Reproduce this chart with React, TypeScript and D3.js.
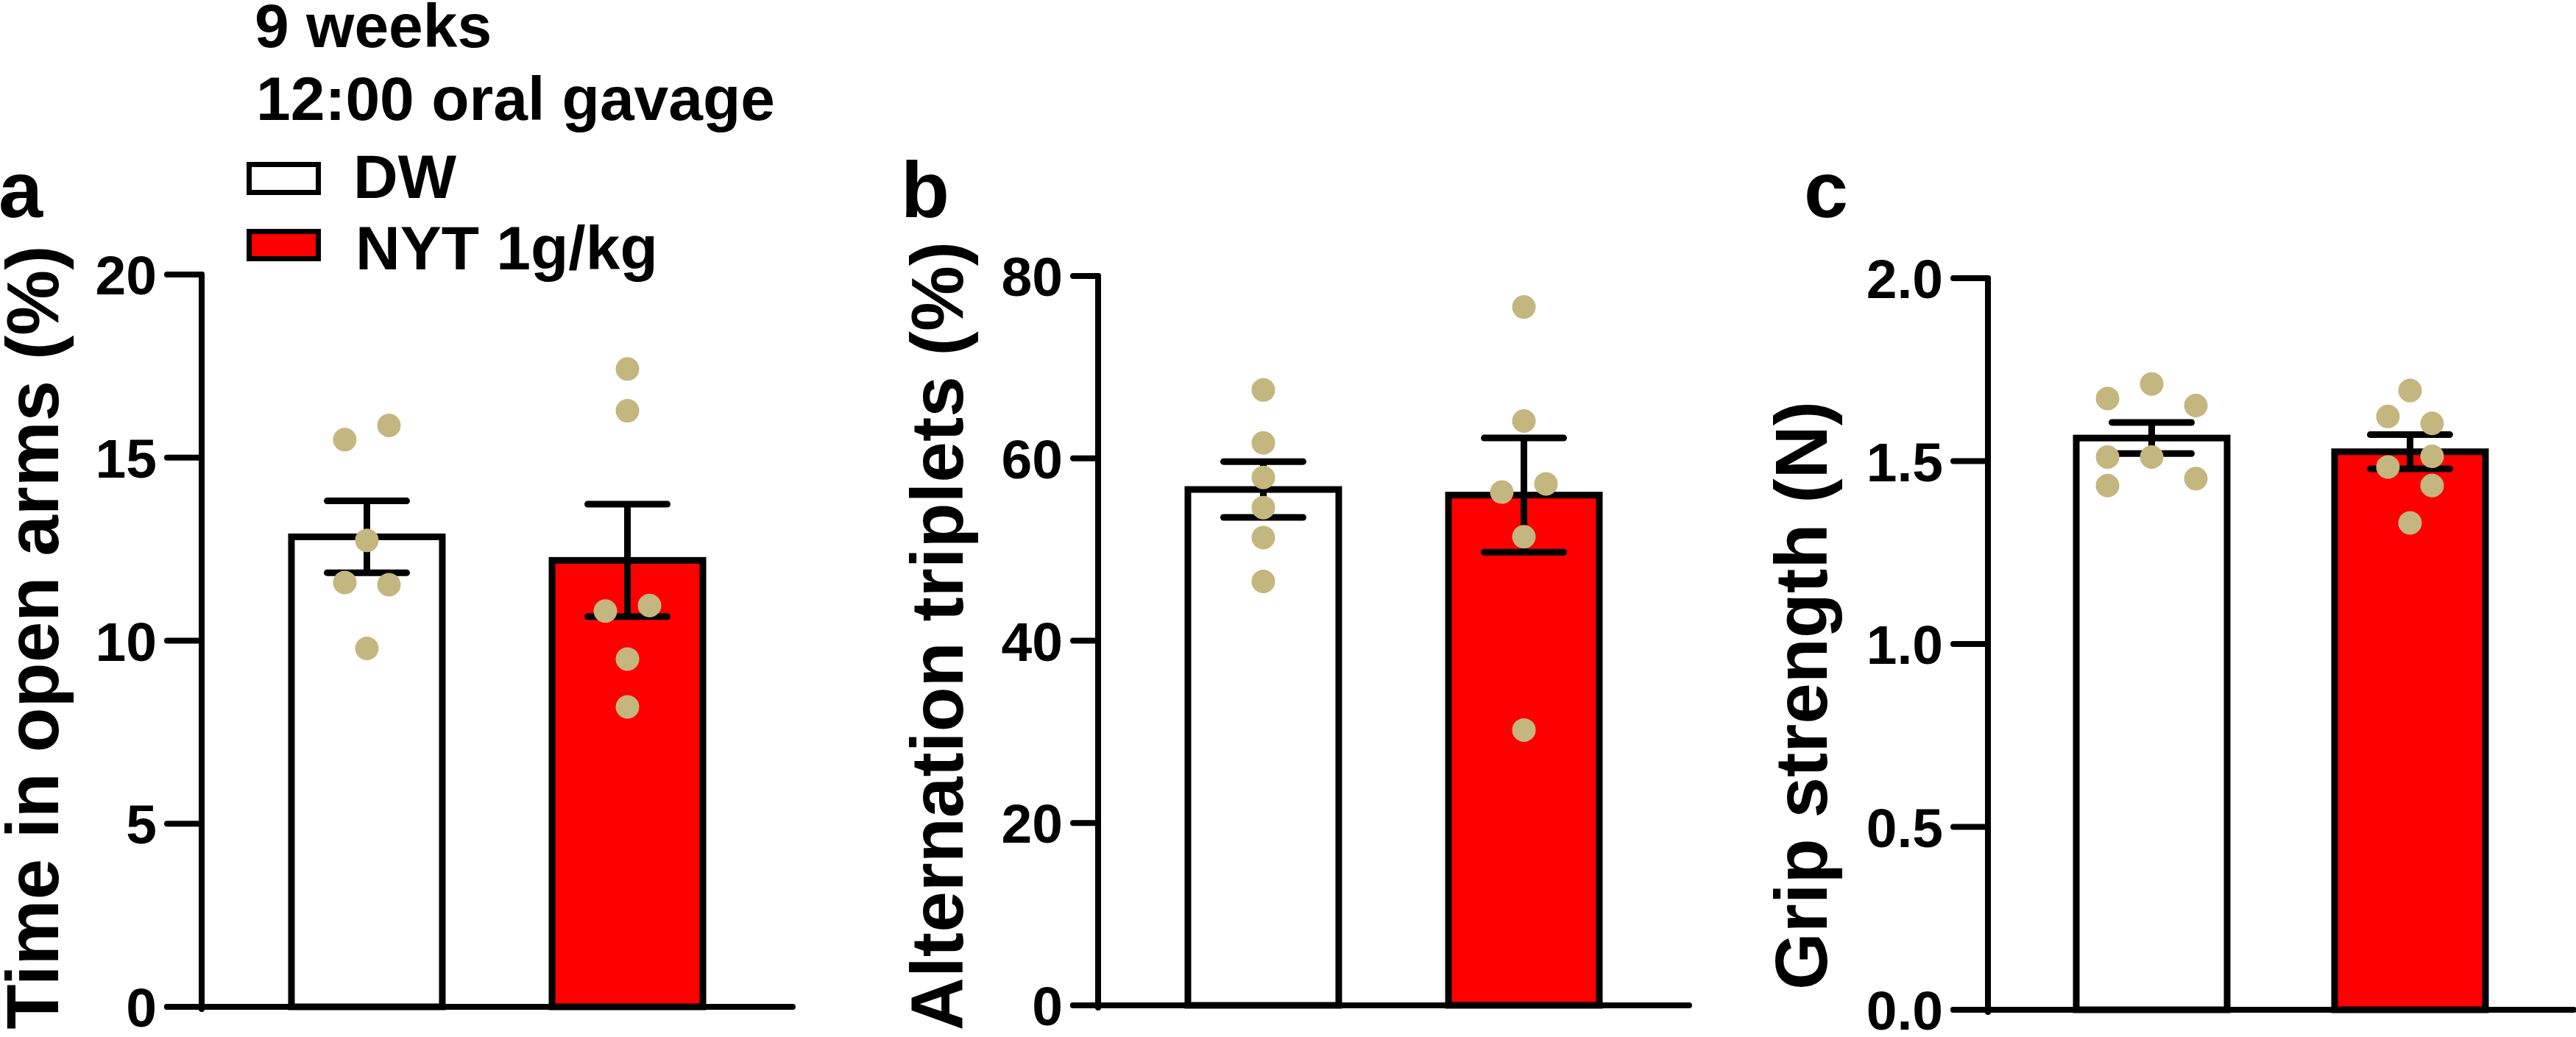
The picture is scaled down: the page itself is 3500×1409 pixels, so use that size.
import React from "react";
import * as d3 from "d3";

// Groups and colours
const groups = ["DW", "NYT 1g/kg"];
const groupFill = ["#FFFFFF", "#FF0000"];
const dotColor = "#C4B67F";

// Panel a: time in open arms (%), individual animals
const openArmsDW = [15.49, 15.88, 12.74, 11.59, 11.53, 9.79];
const openArmsNYT = [17.42, 16.28, 10.81, 10.96, 9.5, 8.19];
const openArmsColsDW = [-1, 1, 0, -1, 1, 0];
const openArmsColsNYT = [0, 0, -1, 1, 0, 0];
const openArmsTicks = [0, 5, 10, 15, 20];

// Panel b: alternation triplets (%)
const alternationDW = [67.5, 61.7, 57.9, 54.6, 51.3, 46.5];
const alternationNYT = [76.6, 64.1, 56.3, 57.2, 51.4, 30.2];
const alternationColsDW = [0, 0, 0, 0, 0, 0];
const alternationColsNYT = [0, 0, -1, 1, 0, 0];
const alternationTicks = [0, 20, 40, 60, 80];

// Panel c: grip strength (N)
const gripDW = [1.671, 1.711, 1.652, 1.511, 1.511, 1.433, 1.452];
const gripNYT = [1.693, 1.622, 1.603, 1.513, 1.484, 1.433, 1.331];
const gripColsDW = [-2, 0, 2, -2, 0, -2, 2];
const gripColsNYT = [0, -1, 1, 1, -1, 1, 0];
const gripTicks = [0, 0.5, 1.0, 1.5, 2.0];

const FONT = "Arial, 'Liberation Sans', Helvetica, sans-serif";
const STROKE = 9;
const BAR_W = 205;
const CAP_HALF = 54;
const DOT_R = 16;
const COL_STEP = 30;

type PanelProps = {
  letter: string;
  title: string;
  series: number[][];
  cols: number[][];
  ticks: number[];
  fmt: (v: number) => string;
  axisX: number;
  xEnd: number;
  y0: number;
  yTop: number;
  tickLen: number;
  titleX: number;
  titleY: number;
  letterX: number;
};

function Panel(p: PanelProps) {
  const yMax = p.ticks[p.ticks.length - 1];
  const y = d3.scaleLinear().domain([0, yMax]).range([p.y0, p.yTop]);
  const x = d3.scalePoint<string>().domain(groups).range([p.axisX, p.xEnd]).padding(0.634);

  const stats = p.series.map((vals) => {
    const m = d3.mean(vals) as number;
    const sem = (d3.deviation(vals) as number) / Math.sqrt(vals.length);
    return { m, sem };
  });

  return (
    <g>
      <text x={p.letterX} y={295} fontSize={108} fontWeight="bold" fontFamily={FONT}>
        {p.letter}
      </text>
      <text
        transform={`translate(${p.titleX},${p.titleY}) rotate(-90)`}
        textAnchor="middle"
        fontSize={100}
        fontWeight="bold"
        fontFamily={FONT}
      >
        {p.title}
      </text>

      {/* bars */}
      {groups.map((g, i) => (
        <rect
          key={g}
          x={(x(g) as number) - BAR_W / 2}
          y={y(stats[i].m)}
          width={BAR_W}
          height={y(0) - y(stats[i].m)}
          fill={groupFill[i]}
          stroke="#000"
          strokeWidth={STROKE}
        />
      ))}

      {/* mean ± SEM */}
      {groups.map((g, i) => {
        const cx = x(g) as number;
        const hi = y(stats[i].m + stats[i].sem);
        const lo = y(stats[i].m - stats[i].sem);
        return (
          <g key={g} stroke="#000" strokeWidth={STROKE} strokeLinecap="round">
            <line x1={cx} x2={cx} y1={hi} y2={lo} strokeLinecap="butt" />
            <line x1={cx - CAP_HALF} x2={cx + CAP_HALF} y1={hi} y2={hi} />
            <line x1={cx - CAP_HALF} x2={cx + CAP_HALF} y1={lo} y2={lo} />
          </g>
        );
      })}

      {/* individual values */}
      {groups.map((g, i) =>
        p.series[i].map((v, j) => (
          <circle
            key={`${g}-${j}`}
            cx={(x(g) as number) + p.cols[i][j] * COL_STEP}
            cy={y(v)}
            r={DOT_R}
            fill={dotColor}
          />
        ))
      )}

      {/* axes */}
      <g stroke="#000" strokeWidth={8} strokeLinecap="round" fill="none">
        <line x1={p.axisX} x2={p.axisX} y1={y(yMax)} y2={p.y0 + 3} />
        <line x1={p.axisX - p.tickLen} x2={p.xEnd} y1={p.y0} y2={p.y0} />
        {p.ticks.map((t) => (
          <line key={t} x1={p.axisX - p.tickLen} x2={p.axisX} y1={y(t)} y2={y(t)} />
        ))}
      </g>
      {p.ticks.map((t) => (
        <text
          key={t}
          x={p.axisX - p.tickLen - 14}
          y={y(t)}
          dy="0.36em"
          textAnchor="end"
          fontSize={75}
          fontWeight="bold"
          fontFamily={FONT}
        >
          {p.fmt(t)}
        </text>
      ))}
    </g>
  );
}

export default function App() {
  const intFmt = d3.format("d");
  const decFmt = d3.format(".1f");
  return (
    <svg
      width={3500}
      height={1409}
      viewBox="0 0 3500 1409"
      style={{ position: "absolute", left: 0, top: 0, background: "#fff" }}
    >
      <rect width={3500} height={1409} fill="#fff" />

      {/* header and legend */}
      <g fontFamily={FONT} fontWeight="bold" fontSize={84}>
        <text x={346} y={64}>9 weeks</text>
        <text x={348} y={163}>12:00 oral gavage</text>
        <rect x={338.5} y={223.5} width={94} height={38} fill={groupFill[0]} stroke="#000" strokeWidth={7} />
        <text x={480} y={269}>{groups[0]}</text>
        <rect x={338.5} y={314.5} width={94} height={37} fill={groupFill[1]} stroke="#000" strokeWidth={7} />
        <text x={483} y={366}>{groups[1]}</text>
      </g>

      <Panel
        letter="a"
        title="Time in open arms (%)"
        series={[openArmsDW, openArmsNYT]}
        cols={[openArmsColsDW, openArmsColsNYT]}
        ticks={openArmsTicks}
        fmt={intFmt}
        axisX={274}
        xEnd={1077}
        y0={1368}
        yTop={373}
        tickLen={47}
        titleX={79}
        titleY={866}
        letterX={-2}
      />
      <Panel
        letter="b"
        title="Alternation triplets (%)"
        series={[alternationDW, alternationNYT]}
        cols={[alternationColsDW, alternationColsNYT]}
        ticks={alternationTicks}
        fmt={intFmt}
        axisX={1492}
        xEnd={2295}
        y0={1366}
        yTop={375}
        tickLen={34}
        titleX={1308}
        titleY={864}
        letterX={1224}
      />
      <Panel
        letter="c"
        title="Grip strength (N)"
        series={[gripDW, gripNYT]}
        cols={[gripColsDW, gripColsNYT]}
        ticks={gripTicks}
        fmt={decFmt}
        axisX={2701}
        xEnd={3497}
        y0={1372}
        yTop={378}
        tickLen={47}
        titleX={2482}
        titleY={945}
        letterX={2451}
      />
    </svg>
  );
}
